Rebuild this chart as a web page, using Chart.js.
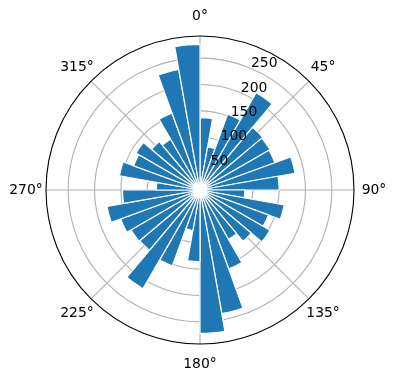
<!DOCTYPE html>
<html>
<head>
<meta charset="utf-8">
<script src="https://cdn.jsdelivr.net/npm/chart.js@4"></script>
<style>
  html, body { margin: 0; padding: 0; background: #ffffff; }
  #wrap { position: absolute; left: 0; top: 0; width: 396px; height: 380px; }
</style>
</head>
<body>
<div id="wrap"><canvas id="c" width="396" height="380"></canvas></div>
<script>
// ---- data ----
const categories = ['0°','10°','20°','30°','40°','50°','60°','70°','80°',
                    '90°','100°','110°','120°','130°','140°','150°','160°','170°',
                    '180°','190°','200°','210°','220°','230°','240°','250°','260°',
                    '270°','280°','290°','300°','310°','320°','330°','340°','350°'];
const counts = [137, 83, 153, 213, 155, 153, 151, 183, 150,
                85, 162, 138, 153, 127, 108, 159, 238, 272,
                136, 78, 153, 216, 149, 151, 160, 179, 147,
                83, 155, 134, 140, 120, 111, 155, 232, 276];
const radialTicks = [50, 100, 150, 200, 250];
const angleTicks = [0, 45, 90, 135, 180, 225, 270, 315];
const angleTickLabels = ['0°', '45°', '90°', '135°', '180°', '225°', '270°', '315°'];
const rMax = 292;

// ---- styles ----
const BAR = '#1f77b4';
const GRID = '#b0b0b0';
const FONT = '13.9px "DejaVu Sans", sans-serif';
const LABEL_ANGLE = 22.5;

const polarDecor = {
  id: 'polarDecor',
  beforeDatasetsDraw(chart) {
    const s = chart.scales.r, ctx = chart.ctx;
    const R = s.getDistanceFromCenterForValue(rMax);
    ctx.save();
    ctx.strokeStyle = GRID;
    ctx.lineWidth = 1.1;
    angleTicks.forEach(a => {
      const t = a * Math.PI / 180;
      ctx.beginPath();
      ctx.moveTo(s.xCenter, s.yCenter);
      ctx.lineTo(s.xCenter + R * Math.sin(t), s.yCenter - R * Math.cos(t));
      ctx.stroke();
    });
    ctx.restore();
  },
  afterDatasetsDraw(chart) {
    const s = chart.scales.r, ctx = chart.ctx;
    const R = s.getDistanceFromCenterForValue(rMax);
    ctx.save();
    // outer spine
    ctx.strokeStyle = '#000000';
    ctx.lineWidth = 1.1;
    ctx.beginPath();
    ctx.arc(s.xCenter, s.yCenter, R, 0, Math.PI * 2);
    ctx.stroke();
    // radial tick labels
    ctx.fillStyle = '#000000';
    ctx.font = FONT;
    ctx.textAlign = 'left';
    ctx.textBaseline = 'alphabetic';
    const ta = LABEL_ANGLE * Math.PI / 180;
    radialTicks.forEach(v => {
      const d = s.getDistanceFromCenterForValue(v);
      const x = s.xCenter + d * Math.sin(ta);
      const y = s.yCenter - d * Math.cos(ta);
      ctx.fillText(String(v), x + 0.5, y - 1);
    });
    // angular labels
    ctx.textAlign = 'center';
    ctx.textBaseline = 'middle';
    angleTicks.forEach((a, i) => {
      const t = a * Math.PI / 180;
      const rr = R + 20;
      ctx.fillText(angleTickLabels[i], s.xCenter + rr * Math.sin(t), s.yCenter - rr * Math.cos(t) + 0.5);
    });
    ctx.restore();
  }
};

new Chart(document.getElementById('c'), {
  type: 'polarArea',
  data: {
    labels: categories,
    datasets: [{
      data: counts,
      backgroundColor: BAR,
      borderColor: '#ffffff',
      borderWidth: 1.2,
      hoverBackgroundColor: BAR
    }]
  },
  options: {
    responsive: false,
    animation: false,
    layout: { padding: { left: 46, right: 42, top: 36, bottom: 36 } },
    plugins: { legend: { display: false }, tooltip: { enabled: false } },
    scales: {
      r: {
        min: 0,
        max: rMax,
        startAngle: 0,
        angleLines: { display: false },
        pointLabels: { display: false },
        grid: {
          circular: true,
          lineWidth: 1.1,
          color: (c) => (c.tick && c.tick.value >= rMax) ? 'rgba(0,0,0,0)' : GRID
        },
        ticks: { display: false, stepSize: 50 }
      }
    }
  },
  plugins: [polarDecor]
});
</script>
</body>
</html>
